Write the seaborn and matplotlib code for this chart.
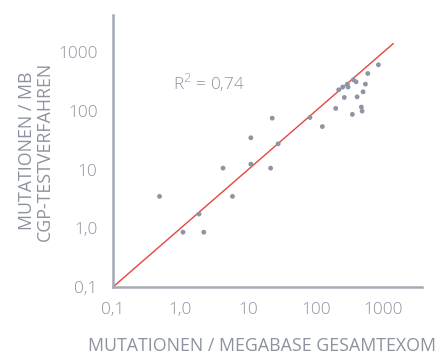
import matplotlib
matplotlib.use("Agg")
import seaborn as sns
import matplotlib.pyplot as plt

# Mutations per megabase: whole exome (x) vs CGP test (y)
wes_tmb = [0.49, 1.09, 1.88, 2.21, 4.26, 5.87, 10.96, 10.96, 21.5, 22.7, 27.8, 82,
           125, 197, 218, 250, 264, 293, 300, 347, 359, 394, 408, 472, 484, 500, 541, 587, 843]
cgp_tmb = [3.5, 0.86, 1.75, 0.86, 10.6, 3.5, 34.8, 12.4, 10.6, 75, 27.5, 77,
           54, 110, 228, 254, 169, 285, 254, 87, 338, 312, 173, 116, 99, 211, 285, 432, 608]

# identity line
line_x = [0.1, 1400]
line_y = [0.1, 1400]

tick_vals = [0.1, 1, 10, 100, 1000]
tick_labels = ["0,1", "1,0", "10", "100", "1000"]

sns.set_style("white")
plt.rcParams['font.family'] = ['Open Sans', 'DejaVu Sans']
plt.rcParams['font.weight'] = 'light'
grey = "#8d929e"
axis_grey = "#a4a9b4"

fig = plt.figure(figsize=(4.39, 3.54), dpi=100)
ax = fig.add_axes([0.257, 0.189, 0.704, 0.769])

sns.lineplot(x=line_x, y=line_y, color="#e8453f", linewidth=1.0, ax=ax)
sns.scatterplot(x=wes_tmb, y=cgp_tmb, color="#8e94a3", s=12, edgecolor="none", ax=ax, zorder=3)

ax.set_xscale("log")
ax.set_yscale("log")
ax.set_xlim(0.1, 3700)
ax.set_ylim(0.1, 4300)
ax.set_xticks(tick_vals)
ax.set_xticklabels(tick_labels)
ax.set_yticks(tick_vals)
ax.set_yticklabels(tick_labels)
ax.minorticks_off()

for side in ["top", "right"]:
    ax.spines[side].set_visible(False)
for side in ["left", "bottom"]:
    ax.spines[side].set_color(axis_grey)
    ax.spines[side].set_linewidth(1.8)

ax.tick_params(axis="both", colors=axis_grey, labelcolor=grey, labelsize=12.3,
               length=5, width=1.2, direction="out", pad=6)

ax.set_xlabel("MUTATIONEN / MEGABASE GESAMTEXOM", color=grey, fontsize=12.8, va="center")
ax.xaxis.set_label_coords(0.482, -0.217)
ax.set_ylabel("MUTATIONEN / MB\nCGP-TESTVERFAHREN", color=grey, fontsize=12.8,
              linespacing=0.95, va="center")
ax.yaxis.set_label_coords(-0.249, 0.5)

ax.text(0.77, 300, "R$^2$ = 0,74", color=grey, fontsize=12.3, ha="left", va="center")

plt.savefig("out.png", dpi=100)
